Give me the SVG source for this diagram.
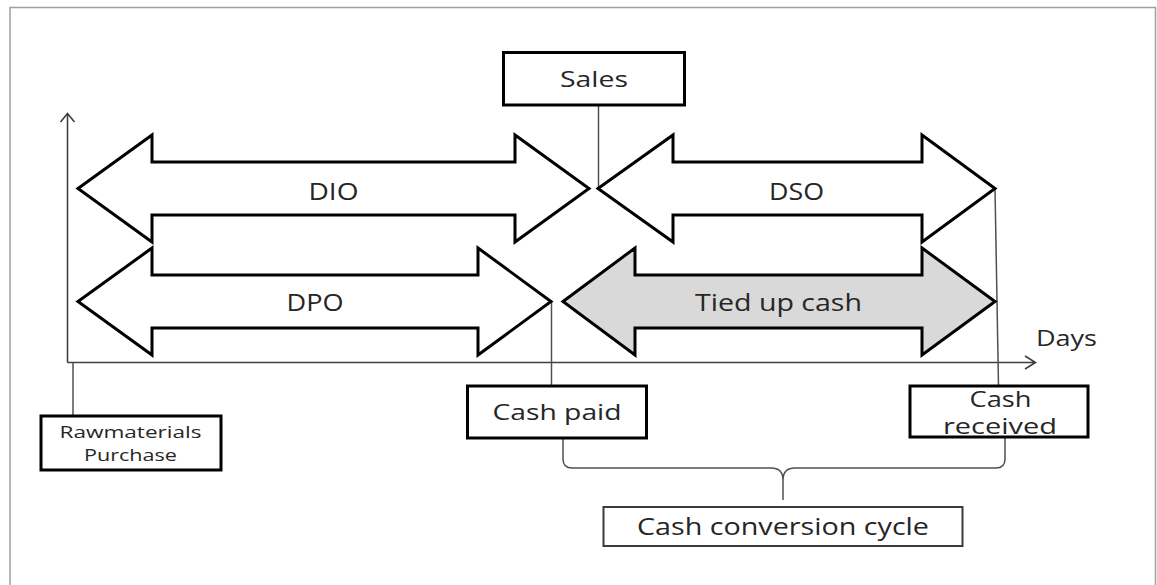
<svg xmlns="http://www.w3.org/2000/svg" width="1157" height="585" viewBox="0 0 1157 585">
  <defs>
    <style>
      .arrow { fill: #ffffff; stroke: #000000; stroke-width: 3; stroke-linejoin: miter; }
      .shaded { fill: #d9d9d9; }
      .box { fill: #ffffff; stroke: #000000; stroke-width: 3; }
      .thinbox { fill: #ffffff; stroke: #3a3a3a; stroke-width: 2; }
      .conn { fill: none; stroke: #505050; stroke-width: 1.5; }
      .axis { fill: none; stroke: #404040; stroke-width: 1.6; }
      .lbl { font-family: "Open Sans", "Liberation Sans", sans-serif; fill: #262626; text-anchor: middle; }
    </style>
  </defs>
  <rect x="0" y="0" width="1157" height="585" fill="#ffffff"/>
  <path d="M10,590 L10,7.5 L1155.5,7.5 L1155.5,590" fill="none" stroke="#a0a0a0" stroke-width="1.5"/>

  <g id="connectors">
    <path class="axis" d="M67.5,362.5 L67.5,113.5 M60.5,122 L67.5,113.5 L74.5,122"/>
    <path class="axis" d="M67.5,362.5 L1035.5,362.5 M1025,356 L1035.5,362.5 L1025,369"/>
    <path class="conn" d="M73,362.5 L73,416"/>
    <path class="conn" d="M598.5,105 L598.5,188"/>
    <path class="conn" d="M551.5,302 L551.5,386"/>
    <path class="conn" d="M995,188 L998.5,386"/>
    <path class="conn" d="M563,438 L563,459 Q563,468 572,468 L771,468 Q783,468 783,480 L783,500 M783,480 Q783,468 795,468 L996,468 Q1005,468 1005,459 L1005,438"/>
  </g>

  <g id="dio">
    <polygon class="arrow" points="78,188.5 152,135 152,162 515,162 515,135 589,188.5 515,242 515,215 152,215 152,242"/>
    <text class="lbl" x="333.5" y="200" font-size="23" textLength="50" lengthAdjust="spacingAndGlyphs">DIO</text>
  </g>
  <g id="dso">
    <polygon class="arrow" points="598,188.5 673,135 673,162 922,162 922,135 995,188.5 922,242 922,215 673,215 673,242"/>
    <text class="lbl" x="796.5" y="200" font-size="23" textLength="55" lengthAdjust="spacingAndGlyphs">DSO</text>
  </g>
  <g id="dpo">
    <polygon class="arrow" points="78,301.5 152,248 152,275 478,275 478,248 551,301.5 478,355 478,328 152,328 152,355"/>
    <text class="lbl" x="315" y="311" font-size="23" textLength="57" lengthAdjust="spacingAndGlyphs">DPO</text>
  </g>
  <g id="tied-up-cash">
    <polygon class="arrow shaded" points="563,301.5 635,248 635,275 922,275 922,248 995,301.5 922,355 922,328 635,328 635,355"/>
    <text class="lbl" x="778.5" y="311" font-size="23" textLength="167" lengthAdjust="spacingAndGlyphs">Tied up cash</text>
  </g>

  <g id="sales">
    <rect class="box" x="503.5" y="52.5" width="181" height="52.5"/>
    <text class="lbl" x="594" y="86.5" font-size="21" textLength="68" lengthAdjust="spacingAndGlyphs">Sales</text>
  </g>
  <g id="days">
    <text class="lbl" x="1066.5" y="345.5" font-size="22" textLength="61" lengthAdjust="spacingAndGlyphs">Days</text>
  </g>
  <g id="rawmaterials-purchase">
    <rect class="box" x="41" y="416" width="180" height="54"/>
    <text class="lbl" x="130.5" y="437.5" font-size="15.5" textLength="142" lengthAdjust="spacingAndGlyphs">Rawmaterials</text>
    <text class="lbl" x="130.5" y="460.5" font-size="15.5" textLength="93" lengthAdjust="spacingAndGlyphs">Purchase</text>
  </g>
  <g id="cash-paid">
    <rect class="box" x="467.5" y="386" width="179" height="52"/>
    <text class="lbl" x="557" y="420" font-size="22" textLength="129" lengthAdjust="spacingAndGlyphs">Cash paid</text>
  </g>
  <g id="cash-received">
    <rect class="box" x="910" y="386" width="178" height="51"/>
    <text class="lbl" x="1000.5" y="406.5" font-size="21" textLength="62" lengthAdjust="spacingAndGlyphs">Cash</text>
    <text class="lbl" x="1000" y="434" font-size="21" textLength="114" lengthAdjust="spacingAndGlyphs">received</text>
  </g>
  <g id="cash-conversion-cycle">
    <rect class="thinbox" x="603.5" y="507" width="359" height="39"/>
    <text class="lbl" x="783" y="535" font-size="23" textLength="292" lengthAdjust="spacingAndGlyphs">Cash conversion cycle</text>
  </g>
</svg>
